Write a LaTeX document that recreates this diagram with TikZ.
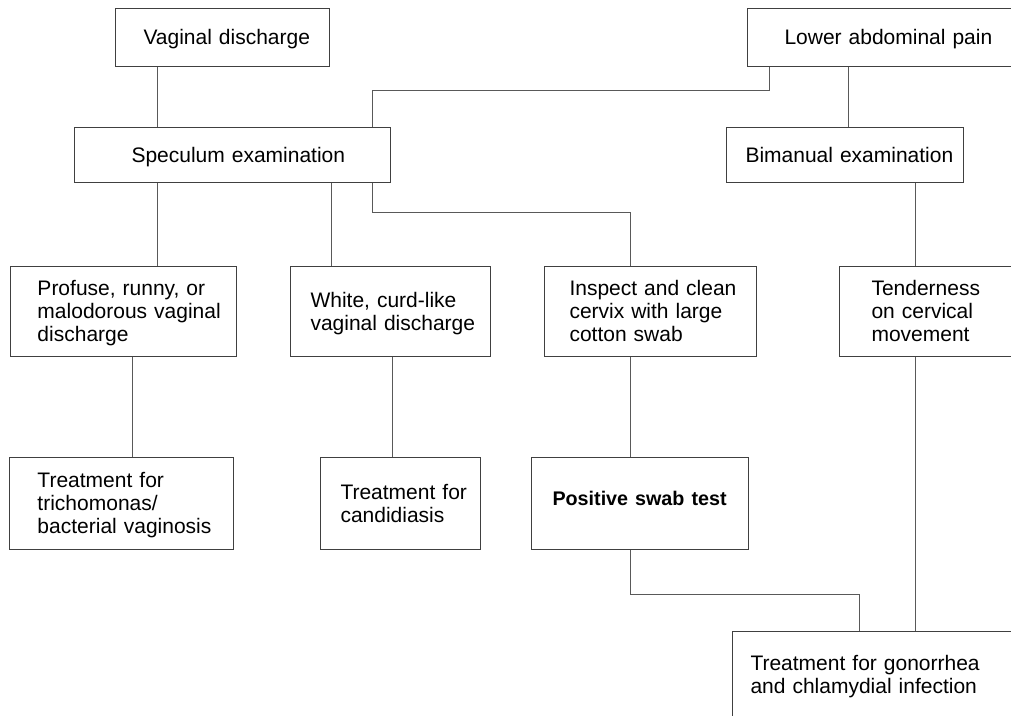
\documentclass[tikz,border=0pt]{standalone}
\usepackage{fontspec}
\setmainfont{Liberation Sans}
\newlength\px
\setlength\px{0.75pt}
\tikzset{
  box/.style={draw=black!75, line width=0.75pt, inner xsep=0pt, inner ysep=0pt,
    anchor=north west, align=left,
    font=\fontsize{15.75}{17.4}\selectfont},
  conn/.style={draw=black!65, line width=0.75pt}
}
\newcommand\tx[2]{\hspace*{#1\px}\raisebox{-2.5\px}[\height][\depth]{\begin{tabular}{@{}l@{}}#2\end{tabular}}}
\begin{document}
\begin{tikzpicture}[x=0.75pt,y=-0.75pt]
\clip (0,0) rectangle (1011,715);
\fill[white] (0,0) rectangle (1011,715);
% row 1
\node[box, text width=214\px, minimum height=58\px] (vd) at (115,8) {\tx{28}{Vaginal discharge}};
\node[box, text width=267\px, minimum height=58\px] (lap) at (747,8) {\tx{37}{Lower abdominal pain}};
% row 2
\node[box, text width=316\px, minimum height=55\px] (spec) at (74,127) {\tx{57}{Speculum examination}};
\node[box, text width=237\px, minimum height=55\px] (bim) at (726,127) {\tx{19}{Bimanual examination}};
% row 3
\node[box, text width=226\px, minimum height=90\px] (prof) at (10,266) {\tx{27}{Profuse, runny, or\\ malodorous vaginal\\ discharge}};
\node[box, text width=200\px, minimum height=90\px] (white) at (290,266) {\tx{20}{White, curd-like\\ vaginal discharge}};
\node[box, text width=212\px, minimum height=90\px] (insp) at (544,266) {\tx{25}{Inspect and clean\\ cervix with large\\ cotton swab}};
\node[box, text width=175\px, minimum height=90\px] (tend) at (839,266) {\tx{32}{Tenderness\\ on cervical\\ movement}};
% row 4
\node[box, text width=224\px, minimum height=92\px] (trich) at (9,457) {\tx{28}{Treatment for\\ trichomonas/\\ bacterial vaginosis}};
\node[box, text width=160\px, minimum height=92\px] (cand) at (320,457) {\tx{20}{Treatment for\\ candidiasis}};
\node[box, text width=217\px, minimum height=92\px] (pos) at (531,457) {\tx{21}{\raisebox{9\px}{\fontsize{14.8}{17}\selectfont\bfseries Positive swab test}}};
% row 5
\node[box, text width=282\px, minimum height=87\px] (gon) at (732,631) {\tx{18}{Treatment for gonorrhea\\ and chlamydial infection}};
% connectors
\draw[conn] (157,0 |- vd.south) -- (157,0 |- spec.north);
\draw[conn] (769,0 |- lap.south) |- (372,90) -- (372,0 |- spec.north);
\draw[conn] (848,0 |- lap.south) -- (848,0 |- bim.north);
\draw[conn] (157,0 |- spec.south) -- (157,0 |- prof.north);
\draw[conn] (331,0 |- spec.south) -- (331,0 |- white.north);
\draw[conn] (372,0 |- spec.south) |- (630,212) -- (630,0 |- insp.north);
\draw[conn] (915,0 |- bim.south) -- (915,0 |- tend.north);
\draw[conn] (132,0 |- prof.south) -- (132,0 |- trich.north);
\draw[conn] (392,0 |- white.south) -- (392,0 |- cand.north);
\draw[conn] (630,0 |- insp.south) -- (630,0 |- pos.north);
\draw[conn] (630,0 |- pos.south) |- (859,594) -- (859,0 |- gon.north);
\draw[conn] (915,0 |- tend.south) -- (915,0 |- gon.north);
\end{tikzpicture}
\end{document}
